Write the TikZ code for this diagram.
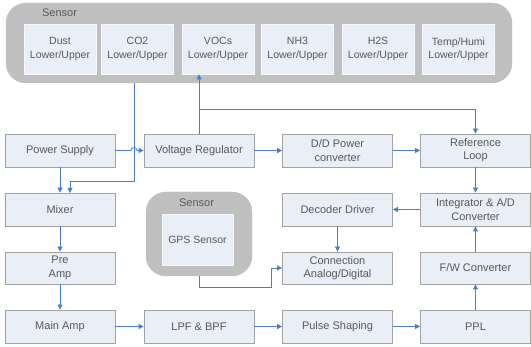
\documentclass[tikz,border=0pt]{standalone}
\usepackage{fontspec}
\setmainfont{Liberation Sans}
\usetikzlibrary{arrows.meta}
\definecolor{boxfill}{HTML}{E9EEF7}
\definecolor{boxline}{HTML}{A3A3A3}
\definecolor{wire}{HTML}{4A7EC8}
\definecolor{shell}{HTML}{C0C0C0}
\definecolor{txt}{HTML}{595959}
\tikzset{
  blk/.style={draw=boxline, fill=boxfill, line width=0.8pt, text=txt,
    font=\fontsize{11}{13.3}\selectfont, align=center,
    minimum width=110pt, minimum height=33pt, inner sep=0pt},
  sbox/.style={draw=white!60!boxfill, fill=boxfill, line width=0.8pt, text=txt,
    font=\fontsize{10.5}{13.3}\selectfont, align=center,
    minimum width=72pt, minimum height=50pt, inner sep=0pt},
  shellbox/.style={fill=shell, draw=shell, rounded corners=20pt},
  shelltitle/.style={text=txt, font=\fontsize{11}{13}\selectfont, inner sep=0pt},
  wireline/.style={draw=wire, line width=0.8pt},
  arr/.style={wireline, -{Triangle[length=5pt, width=5pt]}},
}
\begin{document}
\begin{tikzpicture}[x=1pt, y=-1pt]
\useasboundingbox (0,0) rectangle (531,347);

% sensor array with its six channels
\draw[shellbox] (6,3) rectangle (512,83);
\node[shelltitle] (stitle) at (59.5,13) {Sensor};
\node[sbox] (dust) at (60,49)    {Dust\\Lower/Upper};
\node[sbox] (co2)  at (137.5,49) {CO2\\Lower/Upper};
\node[sbox] (voc)  at (218,49)   {VOCs\\Lower/Upper};
\node[sbox] (nh3)  at (297.5,49) {NH3\\Lower/Upper};
\node[sbox] (h2s)  at (378,49)   {H2S\\Lower/Upper};
\node[sbox] (temp) at (458.5,49) {Temp/Humi\\Lower/Upper};
\coordinate (co2out) at (134,83);

% GPS sensor
\draw[shellbox] (146,192) rectangle (252,276);
\coordinate (gpsshell) at (199,276);
\node[shelltitle] (gtitle) at (196.5,203) {Sensor};
\node[sbox, minimum width=71pt, minimum height=51pt] (gps) at (197.5,239.5) {GPS Sensor};

% processing blocks
\node[blk] (psu)  at (60,150.5)    {Power Supply};
\node[blk] (vreg) at (199,150.5)   {Voltage Regulator};
\node[blk] (dd)   at (337.5,150.5) {D/D Power\\converter};
\node[blk] (ref)  at (475.5,150.5) {Reference\\Loop};

\node[blk] (mix)  at (60,209.5)    {Mixer};
\node[blk] (dec)  at (337.5,209.5) {Decoder Driver};
\node[blk] (intg) at (475.5,209.5) {Integrator \& A/D\\Converter};

\node[blk, minimum height=32pt] (pre)  at (60,268)    {Pre\\Amp};
\node[blk, minimum height=32pt] (conn) at (337.5,268) {Connection\\Analog/Digital};
\node[blk, minimum height=32pt] (fw)   at (475.5,268) {F/W Converter};

\node[blk] (main) at (60,326.5)    {Main Amp};
\node[blk] (lpf)  at (199,326.5)   {LPF \& BPF};
\node[blk] (ps)   at (337.5,326.5) {Pulse Shaping};
\node[blk] (ppl)  at (475.5,326.5) {PPL};

% CO2 threshold down to the mixer
\draw[arr] (co2out) -- (134,181) -- (70,181) -- (70,193);

% power supply to regulator, hopping over the CO2 line
\draw[arr] (psu.east) -- (131,150.5) arc[start angle=180, end angle=0, radius=3pt] -- (vreg.west);
\draw[arr] (psu.south) -- (mix.north);

% regulator feeds the VOCs channel and the reference loop
\coordinate (vj) at (199,109);
\draw[wireline] (vreg.north) -- (vj);
\draw[arr] (vj) -- (voc.south -| vj);
\draw[arr] (vj) -- (vj -| ref.north) -- (ref.north);

\draw[arr] (vreg.east) -- (dd.west);
\draw[arr] (dd.east) -- (ref.west);
\draw[arr] (ref.south) -- (intg.north);
\draw[arr] (intg.west) -- (dec.east);
\draw[arr] (dec.south) -- (conn.north);

% GPS into the connection block
\draw[arr] (gpsshell) -- (199,287) -- (271,287) -- (271,268) -- (conn.west);

% signal chain
\draw[arr] (mix.south) -- (pre.north);
\draw[arr] (pre.south) -- (main.north);
\draw[arr] (main.east) -- (lpf.west);
\draw[arr] (lpf.east) -- (ps.west);
\draw[arr] (ps.east) -- (ppl.west);
\draw[arr] (ppl.north) -- (fw.south);
\draw[arr] (fw.north) -- (intg.south);
\end{tikzpicture}
\end{document}
